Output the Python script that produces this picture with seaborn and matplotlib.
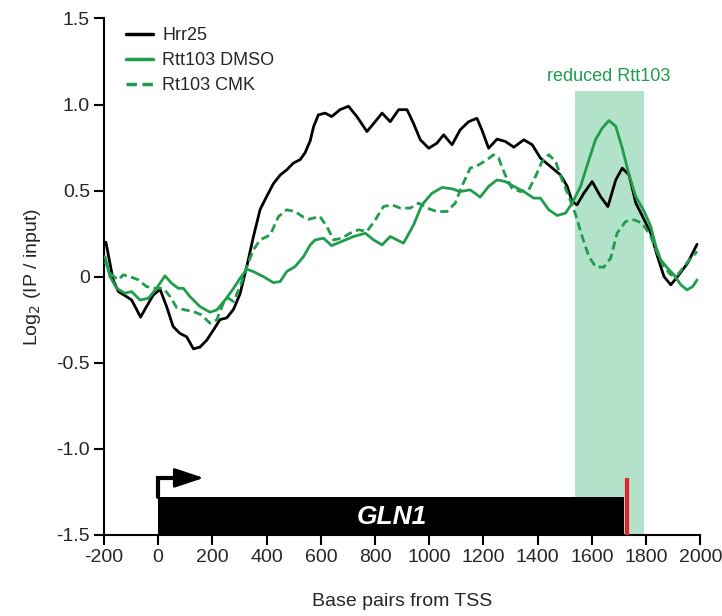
import pandas as pd
import matplotlib
matplotlib.use("Agg")
import matplotlib.pyplot as plt
from matplotlib.patches import Rectangle, FancyArrowPatch
import seaborn as sns

# ChIP profiles across GLN1 (log2 IP/input)
hrr25_bp = [-193, -166, -147, -123, -98, -80, -65, -43, -18, 7, 31, 55, 80, 105, 130, 154, 179, 204, 228, 253,
            278, 302, 327, 351, 376, 400, 425, 450, 474, 499, 524, 542, 561, 573, 591, 616, 640, 671, 702, 733,
            770, 795, 826, 856, 887, 918, 942, 967, 998, 1028, 1053, 1084, 1114, 1145, 1176, 1194, 1219, 1250,
            1281, 1312, 1349, 1380, 1410, 1447, 1484, 1509, 1527, 1545, 1570, 1601, 1632, 1659, 1688, 1712,
            1737, 1762, 1793, 1817, 1842, 1866, 1891, 1916, 1953, 1988]
hrr25_val = [0.20, -0.02, -0.087, -0.11, -0.136, -0.19, -0.236, -0.174, -0.107, -0.074, -0.174, -0.29, -0.33,
             -0.35, -0.42, -0.41, -0.37, -0.31, -0.25, -0.24, -0.19, -0.10, 0.06, 0.23, 0.39, 0.465, 0.54, 0.59,
             0.62, 0.66, 0.68, 0.72, 0.79, 0.87, 0.94, 0.95, 0.93, 0.97, 0.99, 0.93, 0.843, 0.89, 0.95, 0.90,
             0.97, 0.97, 0.89, 0.795, 0.746, 0.775, 0.824, 0.766, 0.853, 0.90, 0.92, 0.853, 0.746, 0.799, 0.785,
             0.752, 0.795, 0.766, 0.689, 0.64, 0.591, 0.524, 0.436, 0.417, 0.484, 0.552, 0.465, 0.407, 0.562,
             0.63, 0.591, 0.427, 0.33, 0.252, 0.116, 0.0, -0.048, 0.0, 0.078, 0.188]

dmso_bp = [-196, -178, -153, -123, -98, -67, -36, -6, 25, 50, 74, 93, 117, 154, 191, 216, 247, 278, 302, 327,
           351, 388, 425, 450, 474, 505, 536, 561, 579, 610, 640, 677, 721, 764, 795, 826, 856, 881, 905, 942,
           973, 1010, 1047, 1084, 1114, 1151, 1188, 1219, 1250, 1281, 1312, 1349, 1385, 1410, 1441, 1472, 1503,
           1527, 1558, 1589, 1613, 1638, 1663, 1688, 1712, 1737, 1762, 1793, 1817, 1836, 1854, 1879, 1903,
           1928, 1951, 1972, 1988]
dmso_val = [0.116, 0.0, -0.068, -0.097, -0.087, -0.136, -0.126, -0.068, 0.004, -0.039, -0.068, -0.068, -0.116,
            -0.174, -0.207, -0.194, -0.136, -0.068, -0.01, 0.043, 0.029, 0.0, -0.035, -0.029, 0.029, 0.058,
            0.116, 0.184, 0.213, 0.223, 0.18, 0.204, 0.233, 0.252, 0.213, 0.184, 0.233, 0.213, 0.194, 0.30,
            0.417, 0.484, 0.518, 0.51, 0.494, 0.504, 0.462, 0.524, 0.562, 0.552, 0.524, 0.494, 0.456, 0.456,
            0.388, 0.355, 0.369, 0.427, 0.524, 0.678, 0.795, 0.863, 0.907, 0.873, 0.746, 0.591, 0.465, 0.378,
            0.291, 0.175, 0.097, 0.049, 0.01, -0.048, -0.077, -0.058, -0.019]

cmk_bp = [-196, -172, -147, -129, -104, -73, -43, -12, 19, 44, 68, 99, 130, 160, 191, 216, 240, 259, 278, 302,
          327, 351, 376, 413, 444, 474, 505, 536, 554, 597, 622, 647, 677, 708, 739, 770, 801, 831, 862, 893,
          930, 961, 992, 1028, 1065, 1096, 1120, 1151, 1182, 1213, 1237, 1256, 1280, 1305, 1336, 1367, 1392,
          1416, 1441, 1466, 1490, 1515, 1540, 1564, 1589, 1613, 1644, 1669, 1693, 1724, 1755, 1786, 1817,
          1842, 1866, 1891, 1916, 1940, 1965, 1988]
cmk_val = [0.087, 0.01, -0.019, 0.01, 0.0, -0.019, -0.058, -0.068, -0.068, -0.116, -0.18, -0.194, -0.203,
           -0.223, -0.271, -0.252, -0.155, -0.126, -0.145, -0.058, 0.058, 0.155, 0.213, 0.242, 0.349, 0.388,
           0.378, 0.345, 0.333, 0.349, 0.291, 0.213, 0.223, 0.252, 0.272, 0.262, 0.33, 0.407, 0.417, 0.398,
           0.398, 0.427, 0.398, 0.378, 0.378, 0.427, 0.524, 0.63, 0.649, 0.679, 0.708, 0.688, 0.591, 0.514,
           0.494, 0.504, 0.582, 0.669, 0.708, 0.669, 0.562, 0.465, 0.359, 0.233, 0.116, 0.058, 0.054, 0.107,
           0.252, 0.32, 0.33, 0.31, 0.233, 0.136, 0.058, 0.01, 0.01, 0.058, 0.107, 0.146]

series_names = ["Hrr25", "Rtt103 DMSO", "Rt103 CMK"]

# annotation positions (bp)
reduced_start, reduced_end, reduced_top = 1536, 1791, 1.08
gene_start, gene_end, gene_top = 0, 1720, -1.283
stop_codon = 1728
tss_arrow_y = -1.17

GREEN = "#1f9d4c"
SHADE = "#b2e2ca"

df = pd.concat([
    pd.DataFrame({"bp": hrr25_bp, "val": hrr25_val, "series": series_names[0]}),
    pd.DataFrame({"bp": dmso_bp, "val": dmso_val, "series": series_names[1]}),
    pd.DataFrame({"bp": cmk_bp, "val": cmk_val, "series": series_names[2]}),
])

sns.set_style("ticks")
plt.rcParams["font.family"] = ["Liberation Sans", "DejaVu Sans"]
plt.rcParams["axes.unicode_minus"] = False

fig = plt.figure(figsize=(7.22, 6.16), dpi=100)
ax = fig.add_axes([0.144, 0.132, 0.826, 0.838])

ax.axvspan(reduced_start, reduced_end, ymin=0, ymax=(reduced_top + 1.5) / 3.0,
           color=SHADE, lw=0, zorder=0)
ax.text((reduced_start + reduced_end) / 2, 1.16, "reduced Rtt103", color=GREEN,
        ha="center", va="center", fontsize=13)

sns.lineplot(data=df, x="bp", y="val", hue="series", style="series",
             palette={series_names[0]: "black", series_names[1]: GREEN, series_names[2]: GREEN},
             dashes={series_names[0]: "", series_names[1]: "", series_names[2]: (3, 1.6)},
             estimator=None, sort=True, linewidth=2, ax=ax, zorder=3)

# gene model
ax.add_patch(Rectangle((gene_start, -1.5), gene_end - gene_start, gene_top + 1.5,
                       facecolor="black", edgecolor="none", zorder=4, clip_on=False))
ax.text(862, -1.395, "GLN1", color="white", fontsize=19, fontweight="bold",
        fontstyle="italic", ha="center", va="center", zorder=5)
ax.plot([stop_codon, stop_codon], [-1.5, tss_arrow_y], color="#e3232c", lw=3, zorder=5,
        solid_capstyle="butt")
ax.plot([gene_start, gene_start, 100], [gene_top, tss_arrow_y, tss_arrow_y], color="black", lw=3,
        zorder=5, solid_joinstyle="miter")
ax.add_patch(FancyArrowPatch((70, tss_arrow_y), (168, tss_arrow_y),
                             arrowstyle="-|>,head_length=0.9,head_width=0.3", mutation_scale=20,
                             color="black", lw=2, shrinkA=0, shrinkB=0, zorder=5))

ax.set_xlim(-200, 2000)
ax.set_ylim(-1.5, 1.5)
ax.set_xticks(range(-200, 2001, 200))
ax.set_yticks([-1.5, -1.0, -0.5, 0, 0.5, 1.0, 1.5])
ax.set_yticklabels(["-1.5", "-1.0", "-0.5", "0", "0.5", "1.0", "1.5"])
ax.tick_params(axis="both", labelsize=14, length=7, width=1.5, color="black", pad=3)
for side in ["left", "bottom"]:
    ax.spines[side].set_linewidth(1.5)
    ax.spines[side].set_color("black")
sns.despine(ax=ax)

ax.set_xlabel("Base pairs from TSS", fontsize=14, labelpad=20)
ax.set_ylabel("Log$_2$ (IP / input)", fontsize=14, labelpad=10)

leg = ax.legend(loc="upper left", bbox_to_anchor=(0.01, 1.015), frameon=False,
                fontsize=13, handlelength=1.5, labelspacing=0.45, handletextpad=0.5)
for line in leg.get_lines():
    line.set_linewidth(2.5)

fig.savefig("out.png", dpi=100)
